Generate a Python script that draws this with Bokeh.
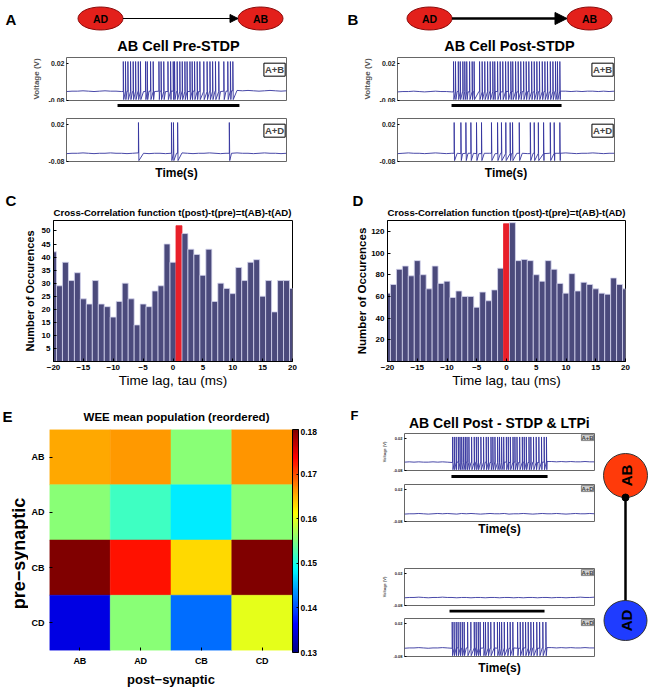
import math
from bokeh.plotting import figure
from bokeh.layouts import column, row
from bokeh.models import (Range1d, FactorRange, Label, Arrow, NormalHead, FixedTicker,
                          NumeralTickFormatter, LinearColorMapper, ColorBar, ColumnDataSource)
from bokeh.embed import file_html
from bokeh.resources import INLINE

# ---------------- data ----------------
TIME_S = [0, 0.25, 0.5, 0.75, 1, 1.25, 1.5, 1.75, 2, 2.25,
          2.5, 2.75, 3, 3.25, 3.5, 3.75, 4, 4.25, 4.5, 4.75,
          5, 5.25, 5.5, 5.75, 6, 6.25, 6.5, 6.75, 7, 7.25,
          7.5, 7.75, 8, 8.25, 8.5, 8.75, 9, 9.25, 9.5, 9.75, 10]

# membrane baselines (mV) sampled at TIME_S
A1_BASE = [-56, -55, -55, -54, -55, -56, -55, -54, -55, -55,
           -56, -55, -56, -55, -56, -55, -56, -55, -56, -55,
           -56, -55, -56, -55, -56, -55, -56, -55, -56, -55,
           -54, -53, -54, -53, -54, -55, -54, -53, -54, -55, -54]
A2_BASE = [-59, -58, -58, -57, -58, -59, -58, -58, -57, -58,
           -58, -59, -58, -57, -58, -59, -58, -58, -59, -58,
           -58, -57, -58, -59, -58, -58, -57, -58, -59, -58,
           -58, -57, -58, -58, -59, -58, -57, -58, -58, -59, -58]
B1_BASE = [-57, -56, -56, -55, -56, -57, -56, -55, -56, -56,
           -57, -56, -56, -57, -56, -56, -57, -56, -56, -57,
           -56, -56, -57, -56, -56, -57, -56, -56, -57, -56,
           -55, -55, -56, -55, -56, -55, -55, -56, -55, -56, -55]
B2_BASE = [-59, -58, -57, -58, -58, -59, -58, -57, -58, -59,
           -58, -58, -59, -58, -58, -59, -58, -58, -59, -58,
           -58, -59, -58, -58, -59, -58, -58, -59, -58, -58,
           -58, -57, -58, -59, -58, -58, -57, -58, -59, -58, -58]
F1_BASE = [-54, -53, -54, -53, -54, -54, -53, -54, -53, -54,
           -55, -54, -55, -54, -55, -54, -55, -54, -55, -54,
           -55, -54, -55, -54, -55, -54, -55, -54, -55, -54,
           -52, -52, -53, -52, -53, -52, -53, -53, -52, -53, -53]
F2_BASE = [-57, -56, -56, -55, -56, -57, -56, -55, -56, -55,
           -56, -57, -55, -56, -55, -56, -57, -56, -55, -56,
           -56, -55, -57, -56, -56, -55, -56, -57, -56, -55,
           -56, -56, -55, -56, -57, -56, -55, -56, -56, -55, -56]
F3_BASE = [-56, -55, -55, -54, -55, -56, -55, -55, -54, -55,
           -55, -56, -55, -55, -56, -55, -55, -56, -55, -55,
           -56, -55, -55, -56, -55, -56, -55, -55, -56, -55,
           -55, -56, -55, -55, -56, -55, -55, -54, -55, -55, -54]
F4_BASE = [-55, -54, -54, -53, -54, -55, -54, -54, -53, -54,
           -55, -54, -55, -54, -55, -54, -55, -54, -55, -54,
           -55, -54, -55, -54, -55, -54, -55, -54, -55, -54,
           -53, -53, -54, -53, -54, -53, -54, -54, -53, -54, -54]

# spike times (s)
A1_SPIKES = [2.58, 2.68, 2.79, 2.91, 3.03, 3.14, 3.26, 3.36, 3.59, 3.67, 3.82, 3.94,
             4.20, 4.30, 4.42, 4.61, 4.73, 4.85, 4.91, 5.03, 5.15, 5.26, 5.38, 5.48,
             5.61, 5.71, 5.82, 5.94, 6.06, 6.24, 6.39, 6.52, 6.64, 6.77, 6.92, 7.15,
             7.33, 7.45, 7.56]
A2_SPIKES = [3.27, 4.77, 4.86, 5.05, 7.40]
B1_SPIKES = [2.58, 2.67, 2.80, 2.89, 3.01, 3.10, 3.19, 3.32, 3.44, 3.53, 3.78, 3.90,
             4.02, 4.15, 4.27, 4.39, 4.48, 4.61, 4.73, 4.85, 4.98, 5.10, 5.22, 5.31,
             5.44, 5.56, 5.68, 5.81, 5.93, 6.05, 6.18, 6.30, 6.42, 6.54, 6.67, 6.79,
             6.91, 7.04, 7.16, 7.28, 7.37, 7.48]
B2_SPIKES = [2.61, 2.92, 3.15, 3.38, 3.64, 3.87, 4.33, 4.61, 4.79, 4.99, 5.19, 5.30,
             5.61, 6.12, 6.30, 6.49, 6.73, 7.04, 7.22, 7.48]
F1_SPIKES = [2.53, 2.62, 2.72, 2.83, 2.92, 3.01, 3.11, 3.20, 3.29, 3.39, 3.53, 3.67,
             3.78, 3.88, 4.02, 4.16, 4.30, 4.41, 4.55, 4.65, 4.76, 4.90, 5.00, 5.11,
             5.22, 5.36, 5.46, 5.57, 5.71, 5.81, 5.92, 6.06, 6.20, 6.30, 6.41, 6.55,
             6.65, 6.79, 6.93, 7.07, 7.21, 7.35, 7.47]
F2_SPIKES = []
F3_SPIKES = []
F4_SPIKES = [2.51, 2.61, 2.72, 2.82, 2.93, 3.04, 3.14, 3.32, 3.49, 3.67, 3.77, 3.88,
             3.98, 4.16, 4.26, 4.40, 4.54, 4.72, 4.89, 5.00, 5.11, 5.25, 5.42, 5.56,
             5.70, 5.95, 6.09, 6.23, 6.37, 6.51, 6.65, 6.79, 6.96, 7.11, 7.28, 7.44]
SPIKE_PEAK_V = 0.026
SPIKE_TROUGH_V = -0.078
V_TICKS = [-0.08, 0.02]

# stimulation bars (start, end) in s
A_STIM = [2.32, 7.86]
B_STIM = [2.49, 7.56]
F_STIM_1 = [2.47, 7.53]
F_STIM_2 = [2.37, 7.37]

# cross-correlation histograms
LAGS = [-20, -19, -18, -17, -16, -15, -14, -13, -12, -11, -10, -9, -8, -7, -6, -5, -4, -3, -2, -1,
        0, 1, 2, 3, 4, 5, 6, 7, 8, 9, 10, 11, 12, 13, 14, 15, 16, 17, 18, 19, 20]
C_COUNTS = [42, 29, 38, 31, 34, 24, 22, 31, 22, 21, 17, 23, 30, 24, 14, 22, 21, 27, 29, 45,
            38, 52, 49, 43, 41, 33, 43, 23, 30, 28, 26, 36, 31, 38, 39, 25, 31, 19, 31, 31, 28]
D_COUNTS = [63, 71, 85, 88, 79, 93, 80, 67, 88, 72, 74, 59, 65, 60, 60, 50, 64, 56, 66, 86,
            127, 128, 93, 94, 93, 80, 74, 93, 85, 72, 63, 81, 65, 73, 71, 67, 63, 62, 77, 71, 67]
C_PEAK_LAG = 1
D_PEAK_LAG = 0
C_YTICKS = [5, 10, 15, 20, 25, 30, 35, 40, 45, 50]
D_YTICKS = [20, 40, 60, 80, 100, 120]
LAG_TICKS = [-20, -15, -10, -5, 0, 5, 10, 15, 20]

# WEE mean population (rows: pre-synaptic, cols: post-synaptic)
PRE = ["AB", "AD", "CB", "CD"]
POST = ["AB", "AD", "CB", "CD"]
WEE = [[0.1655, 0.1662, 0.1555, 0.1665],
       [0.1555, 0.1517, 0.1478, 0.1555],
       [0.1800, 0.1728, 0.1632, 0.1800],
       [0.1350, 0.1555, 0.1417, 0.1600]]
CBAR_TICKS = [0.13, 0.14, 0.15, 0.16, 0.17, 0.18]

# ---------------- styles ----------------
SANS = "Liberation Sans"
TRACE = "#34349e"
BAR_FILL = "#4b4a7c"
BAR_EDGE = "#d4d4ee"
PEAK_RED = "#e8202a"


def jet_hex(t):
    r = min(1, max(0, 1.5 - abs(4 * t - 3)))
    g = min(1, max(0, 1.5 - abs(4 * t - 2)))
    b = min(1, max(0, 1.5 - abs(4 * t - 1)))
    return "#%02x%02x%02x" % (round(r * 255), round(g * 255), round(b * 255))


JET = [jet_hex(i / 255) for i in range(256)]


def fig(**kw):
    p = figure(toolbar_location=None, output_backend="svg", min_border=0, **kw)
    p.frame_align = False
    p.grid.visible = False
    return p


def canvas(w, h):
    p = fig(width=w, height=h, x_range=Range1d(0, w), y_range=Range1d(h, 0),
            x_axis_location=None, y_axis_location=None)
    p.outline_line_color = None
    return p


def txt(p, x, y, s, size, bold=True, align="center", baseline="middle",
        angle=0.0, color="black"):
    p.add_layout(Label(x=x, y=y, text=s, text_font=SANS, text_font_size="%gpx" % size,
                       text_font_style="bold" if bold else "normal", text_align=align,
                       text_baseline=baseline, angle=angle, text_color=color))


def style_axis(ax, size, color="black"):
    ax.major_label_text_font = SANS
    ax.major_label_text_font_style = "bold"
    ax.major_label_text_font_size = size
    ax.major_label_text_color = color
    ax.axis_label_text_font = SANS
    ax.axis_label_text_color = "black"
    ax.axis_label_text_font_style = "bold"
    ax.minor_tick_line_color = None
    ax.major_tick_out = 0


def spike_path(base_mv, spikes):
    pts = [(t, v / 1000.0) for t, v in zip(TIME_S, base_mv)]
    for s in spikes:
        near = min(range(len(TIME_S)), key=lambda i: abs(TIME_S[i] - s))
        v0 = base_mv[near] / 1000.0
        pts += [(s, v0), (s + 0.001, SPIKE_PEAK_V), (s + 0.02, SPIKE_TROUGH_V)]
    pts.sort()
    return [a for a, _ in pts], [b for _, b in pts]


def trace_fig(w, h, left, right, bottom, xr, base, spikes, tag, small=False,
              ylabel=False, xlabel=False, xlabel_standoff=4):
    p = fig(width=w, height=h, x_range=xr, y_range=Range1d(-0.0805, 0.037),
            min_border_left=left, min_border_right=right,
            min_border_top=1, min_border_bottom=bottom,
            x_axis_location="below" if xlabel else None)
    p.outline_line_color = "#666666"
    xs, ys = spike_path(base, spikes)
    p.line(xs, ys, line_color=TRACE, line_width=0.9)
    ya = p.yaxis[0]
    ya.ticker = FixedTicker(ticks=V_TICKS)
    ya.formatter = NumeralTickFormatter(format="0.00")
    ya.axis_line_color = None
    ya.major_tick_in = 2
    style_axis(ya, "4px" if small else "7px", "#222222")
    ya.major_label_standoff = 2
    if ylabel:
        ya.axis_label = "Voltage (V)"
        ya.axis_label_text_font_size = "4px" if small else "8px"
        ya.axis_label_text_color = "#555555"
        ya.axis_label_standoff = 3 if small else 5
    if xlabel:
        xa = p.xaxis[0]
        xa.ticker = FixedTicker(ticks=[])
        xa.axis_line_color = None
        xa.major_tick_line_color = None
        style_axis(xa, "8px")
        xa.axis_label = "Time(s)"
        xa.axis_label_text_font_size = "12px"
        xa.axis_label_standoff = xlabel_standoff
    if small:
        p.add_layout(Label(x=xr.end - 0.05, y=0.0335, text=tag, text_align="right",
                           text_baseline="top", text_font=SANS, text_font_style="bold",
                           text_font_size="6px", background_fill_color="#cfcfcf",
                           border_line_color="#444444", border_line_width=0.6, padding=0))
    else:
        p.add_layout(Label(x=xr.end - 0.06, y=0.0215, text=tag, text_align="right",
                           text_baseline="top", text_font=SANS, text_font_style="bold",
                           text_font_size="9.5px", background_fill_color="white",
                           border_line_color="black", border_line_width=1, padding=1))
    return p


def bar_fig(w, h, left, right, xr, stim, y):
    p = fig(width=w, height=h, x_range=xr, y_range=Range1d(h, 0),
            min_border_left=left, min_border_right=right,
            x_axis_location=None, y_axis_location=None)
    p.outline_line_color = None
    p.segment(x0=[stim[0]], y0=[y], x1=[stim[1]], y1=[y], line_width=3, line_color="black")
    return p


def head_ab(w, letter, letter_x, ad_x, ab_x, title, title_x, thick):
    p = canvas(w, 56)
    txt(p, letter_x, 19, letter, 15, align="left")
    p.ellipse(x=[ad_x, ab_x], y=[18, 18], width=[45, 45], height=[23, 23],
              fill_color="#e3201b", line_color="#8a0a0a", line_width=1)
    txt(p, ad_x, 18.5, "AD", 10.5)
    txt(p, ab_x, 18.5, "AB", 10.5)
    p.add_layout(Arrow(end=NormalHead(size=12 if thick else 8, fill_color="black",
                                      line_color="black", line_width=1),
                       x_start=ad_x + 22.5, y_start=18, x_end=ab_x - 22.5, y_end=18,
                       line_width=2.5 if thick else 1, line_color="black"))
    txt(p, title_x, 45, title, 14.5)
    return p


# ---------------- panels A & B ----------------
WL, WR = 327, 325
xA = Range1d(0, 10)
headA = head_ab(WL, "A", 5, 100, 260, "AB Cell Pre-STDP", 178, False)
trA1 = trace_fig(WL, 46, 66, 41, 2, xA, A1_BASE, A1_SPIKES, "A+B", ylabel=True)
barA = bar_fig(WL, 15, 66, 41, xA, A_STIM, 3)
trA2 = trace_fig(WL, 73, 66, 41, 29, xA, A2_BASE, A2_SPIKES, "A+D", xlabel=True)
colA = column(headA, trA1, barA, trA2)

xB = Range1d(0, 10)
headB = head_ab(WR, "B", 20, 102, 262, "AB Cell Post-STDP", 182, True)
trB1 = trace_fig(WR, 46, 70, 38, 2, xB, B1_BASE, B1_SPIKES, "A+B", ylabel=True)
barB = bar_fig(WR, 15, 70, 38, xB, B_STIM, 3)
trB2 = trace_fig(WR, 73, 70, 38, 29, xB, B2_BASE, B2_SPIKES, "A+D", xlabel=True)
colB = column(headB, trB1, barB, trB2)


# ---------------- panels C & D ----------------
def hist_fig(w, left, right, counts, peak_lag, ymax, yticks, ylab_size, label_standoff):
    p = fig(width=w, height=171, x_range=Range1d(-20, 20), y_range=Range1d(0, ymax),
            min_border_left=left, min_border_right=right,
            min_border_top=1, min_border_bottom=21)
    p.outline_line_color = "black"
    colors = [PEAK_RED if lag == peak_lag else BAR_FILL for lag in LAGS]
    edges = [PEAK_RED if lag == peak_lag else BAR_EDGE for lag in LAGS]
    p.vbar(x=LAGS, top=counts, width=1, fill_color=colors, line_color=edges, line_width=0.8)
    p.xaxis.ticker = FixedTicker(ticks=LAG_TICKS)
    p.yaxis.ticker = FixedTicker(ticks=yticks)
    for ax in (p.xaxis[0], p.yaxis[0]):
        style_axis(ax, "8px")
        ax.major_tick_in = 3
        ax.axis_line_color = "black"
        ax.major_label_standoff = 3
    p.xaxis.axis_label = "Time lag, tau (ms)"
    p.xaxis.axis_label_text_font_style = "normal"
    p.xaxis.axis_label_text_font_size = "13.5px"
    p.xaxis.axis_label_standoff = 0
    p.yaxis.axis_label = "Number of Occurences"
    p.yaxis.axis_label_text_font_size = "%gpx" % ylab_size
    p.yaxis.axis_label_standoff = label_standoff
    return p


TITLE_CC = "Cross-Correlation function t(post)-t(pre)=t(AB)-t(AD)"
headC = canvas(WL, 29)
txt(headC, 5, 10, "C", 15, align="left")
txt(headC, 172, 22, TITLE_CC, 9.6)
histC = hist_fig(WL, 53, 35, C_COUNTS, C_PEAK_LAG, 54, C_YTICKS, 11, 3)

headD = canvas(WR, 29)
txt(headD, 25, 10, "D", 15, align="left")
txt(headD, 179, 22, TITLE_CC, 9.6)
histD = hist_fig(WR, 60, 27, D_COUNTS, D_PEAK_LAG, 130, D_YTICKS, 11.5, 0)

# ---------------- panel E ----------------
headE = canvas(WL, 38)
txt(headE, 2, 26, "E", 15, align="left")
txt(headE, 176, 26, "WEE mean population (reordered)", 11.5)

ylabE = canvas(28, 261)
txt(ylabE, 18, 125, "pre\u2212synaptic", 18, angle=math.pi / 2)

hx, hy, hw = [], [], []
for i, pre in enumerate(PRE):
    for j, post in enumerate(POST):
        hx.append(post)
        hy.append(pre)
        hw.append(WEE[i][j])
heat_src = ColumnDataSource(dict(post=hx, pre=hy, w=hw))
mapper = LinearColorMapper(palette=JET, low=CBAR_TICKS[0], high=CBAR_TICKS[-1])

heat = fig(width=WL - 28, height=261, x_range=FactorRange(factors=POST),
           y_range=FactorRange(factors=PRE[::-1]),
           min_border_left=15, min_border_right=35, min_border_top=1, min_border_bottom=37)
heat.outline_line_color = None
heat.rect(x="post", y="pre", width=1, height=1, source=heat_src,
          fill_color={"field": "w", "transform": mapper},
          line_color={"field": "w", "transform": mapper}, line_width=0.5)
for ax in (heat.xaxis[0], heat.yaxis[0]):
    style_axis(ax, "9px")
    ax.axis_line_color = None
    ax.major_tick_in = 3
    ax.major_label_standoff = 5
heat.xaxis.axis_label = "post\u2212synaptic"
heat.xaxis.axis_label_text_font_size = "13px"
heat.xaxis.axis_label_standoff = 3
cbar = ColorBar(color_mapper=mapper, ticker=FixedTicker(ticks=CBAR_TICKS),
                formatter=NumeralTickFormatter(format="0.00"), width=6, height=223,
                padding=0, margin=3, label_standoff=2, bar_line_color="black",
                major_tick_line_color="black", major_tick_in=2, major_tick_out=0,
                major_label_text_font=SANS, major_label_text_font_style="bold",
                major_label_text_color="black", major_label_text_font_size="8.5px")
heat.add_layout(cbar, "right")

# ---------------- panel F ----------------
WF, WDIAG = 272, 53
xF = Range1d(0, 10)
headF = canvas(WF, 42)
txt(headF, 23, 25, "F", 13, align="left")
txt(headF, 172, 32, "AB Cell Post - STDP & LTPi", 14)
f1 = trace_fig(WF, 40, 77, 5, 2, xF, F1_BASE, F1_SPIKES, "A+B", small=True, ylabel=True)
fbar1 = bar_fig(WF, 11, 77, 5, xF, F_STIM_1, 3)
f2 = trace_fig(WF, 84, 77, 5, 46, xF, F2_BASE, F2_SPIKES, "A+D", small=True, xlabel=True,
               xlabel_standoff=0)
f3 = trace_fig(WF, 40, 77, 5, 2, xF, F3_BASE, F3_SPIKES, "A+B", small=True, ylabel=True)
fbar2 = bar_fig(WF, 10, 77, 5, xF, F_STIM_2, 1.5)
f4 = trace_fig(WF, 72, 77, 5, 33, xF, F4_BASE, F4_SPIKES, "A+D", small=True, xlabel=True,
               xlabel_standoff=4)
colF = column(headF, f1, fbar1, f2, f3, fbar2, f4)

diagF = canvas(WDIAG, 299)
diagF.segment(x0=[26], y0=[107], x1=[26], y1=[211], line_width=2.5, line_color="black")
diagF.ellipse(x=[26, 26], y=[85, 230], width=[44, 43], height=[44, 40],
              fill_color=["#ff3a0a", "#1f3cff"], line_color="#333333", line_width=1)
diagF.scatter(x=[26], y=[107], size=7, fill_color="black", line_color="black")
txt(diagF, 26.5, 85, "AB", 15, angle=math.pi / 2)
txt(diagF, 26.5, 230, "AD", 15, angle=math.pi / 2)

# ---------------- layout ----------------
band1 = row(colA, colB)
band2 = row(column(headC, histC), column(headD, histD))
band3 = row(column(headE, row(ylabE, heat)), row(colF, diagF))
layout = column(band1, band2, band3)

open("out.html", "w").write(file_html(layout, INLINE, title="STDP figure"))
